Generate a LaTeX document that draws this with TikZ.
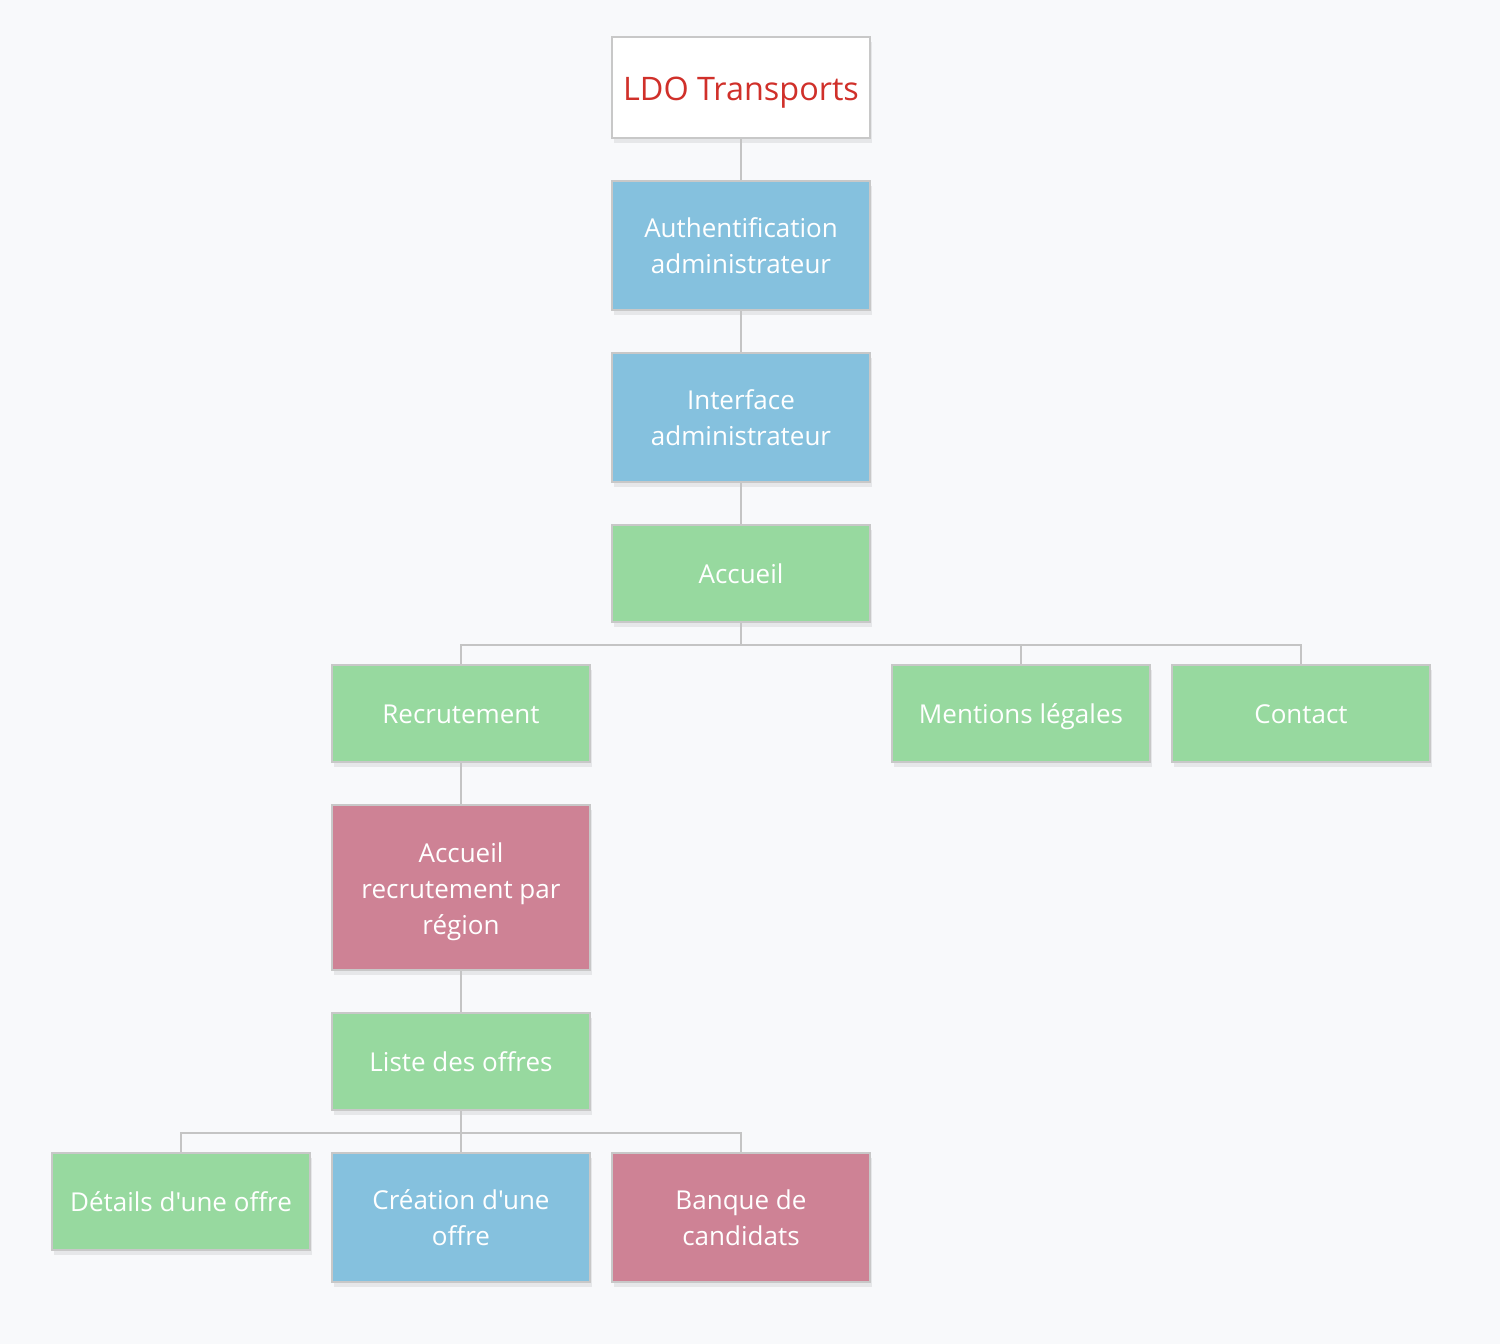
\documentclass[tikz,border=0pt]{standalone}
\usepackage{fontspec}
\setmainfont{Open Sans}[Ligatures=TeXOff]
\usetikzlibrary{shadows}
\definecolor{bg}{HTML}{F8F9FB}
\definecolor{bluebox}{HTML}{85C1DE}
\definecolor{greenbox}{HTML}{97D99F}
\definecolor{pinkbox}{HTML}{CE8295}
\definecolor{edge}{HTML}{C8C8C8}
\definecolor{wire}{HTML}{C4C4C4}
\definecolor{ldored}{HTML}{D0302A}
\newcommand\topstrut[1]{\rule{0pt}{#1}}
\newcommand\botstrut{\rule[-3.5pt]{0pt}{3.5pt}}
\begin{document}
\begin{tikzpicture}[x=0.5pt,y=-0.5pt,
  box/.style={draw=edge, line width=1.2pt, minimum width=129pt, inner sep=0pt,
    text=white, align=center, font=\fontsize{13}{18}\selectfont,
    execute at end node=\botstrut,
    drop shadow={shadow xshift=1pt, shadow yshift=-2.5pt, opacity=0.07, fill=black}},
  oneline/.style={execute at begin node=\topstrut{13.7pt}},
  twoline/.style={execute at begin node=\topstrut{31.7pt}},
  threeline/.style={execute at begin node=\topstrut{50.7pt}},
  gbox/.style={box, fill=greenbox},
  bbox/.style={box, fill=bluebox},
  pbox/.style={box, fill=pinkbox},
  wire/.style={draw=wire, line width=1pt}]
\fill[bg] (0,0) rectangle (1500,1344);
\useasboundingbox (0,0) rectangle (1500,1344);
\node[box, fill=white, text=ldored, minimum height=50.5pt, font=\fontsize{16.2}{20}\selectfont, execute at begin node=\topstrut{16.7pt}] (ldo) at (741,87.5) {LDO Transports};
\node[bbox, twoline, minimum height=64.5pt] (auth) at (741,245.5) {Authentification\\administrateur};
\node[bbox, twoline, minimum height=64.5pt] (iface) at (741,417.5) {Interface\\administrateur};
\node[gbox, oneline, minimum height=48.5pt] (acc) at (741,573.5) {Accueil};
\node[gbox, oneline, minimum height=48.5pt] (recr) at (461,713.5) {Recrutement};
\node[gbox, oneline, minimum height=48.5pt] (ment) at (1021,713.5) {Mentions légales};
\node[gbox, oneline, minimum height=48.5pt] (cont) at (1301,713.5) {Contact};
\node[pbox, threeline, minimum height=82.5pt] (accr) at (461,887.5) {Accueil\\recrutement par\\région};
\node[gbox, oneline, minimum height=48.5pt] (liste) at (461,1061.5) {Liste des offres};
\node[gbox, oneline, minimum height=48.5pt] (det) at (181,1201.5) {Détails d'une offre};
\node[bbox, twoline, minimum height=64.5pt] (crea) at (461,1217.5) {Création d'une\\offre};
\node[pbox, twoline, minimum height=64.5pt] (banq) at (741,1217.5) {Banque de\\candidats};
\coordinate (bus1) at (741,645);
\coordinate (bus2) at (461,1133);
\draw[wire] (ldo.south) -- (auth.north);
\draw[wire] (auth.south) -- (iface.north);
\draw[wire] (iface.south) -- (acc.north);
\draw[wire] (acc.south) -- (bus1);
\draw[wire] (recr.north) |- (bus1) -| (cont.north);
\draw[wire] (ment.north) -- (ment.north |- bus1);
\draw[wire] (recr.south) -- (accr.north);
\draw[wire] (accr.south) -- (liste.north);
\draw[wire] (liste.south) -- (bus2);
\draw[wire] (det.north) |- (bus2) -| (banq.north);
\draw[wire] (crea.north) -- (bus2);
\end{tikzpicture}
\end{document}
